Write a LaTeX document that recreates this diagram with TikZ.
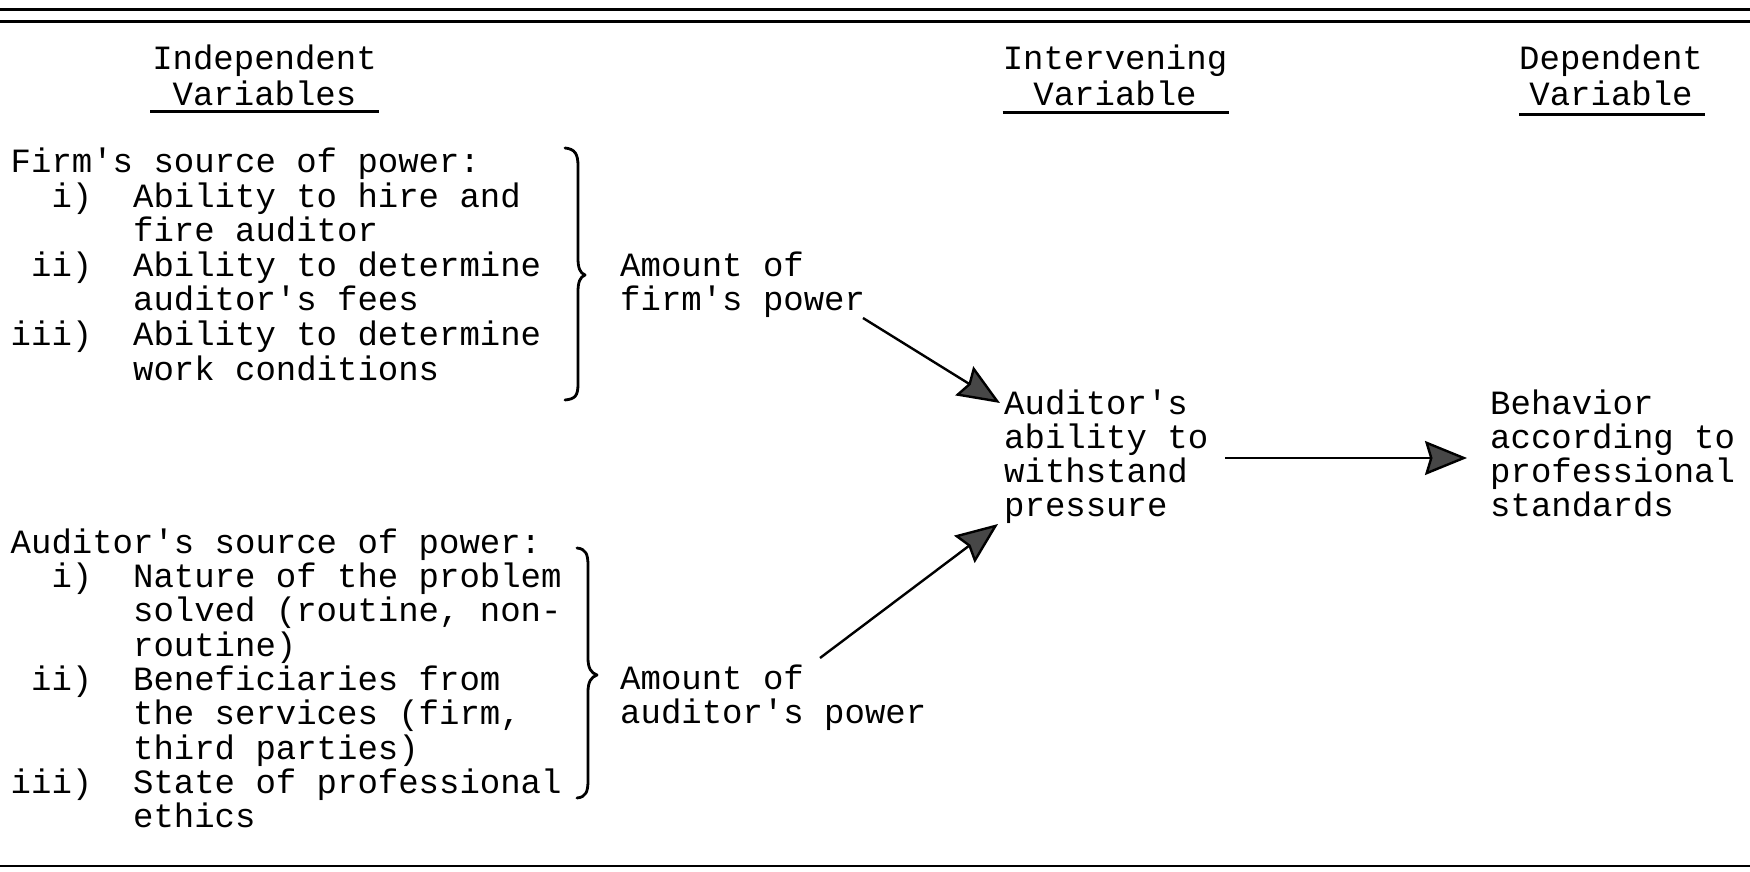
\documentclass[tikz,border=0pt]{standalone}
\usepackage{fontspec}
\newfontfamily\tw{Liberation Mono}
\usetikzlibrary{arrows.meta}
\newcommand{\tq}{\textquotesingle}
\begin{document}
\begin{tikzpicture}[x=1pt,y=-1pt,
  txt/.style={inner sep=0pt, anchor=base west, align=left,
    font={\tw\fontsize{34}{34.3}\selectfont\frenchspacing}},
  txtwide/.style={txt, font={\tw\fontsize{34}{34.6}\selectfont\frenchspacing}},
  hdr/.style={inner sep=0pt, anchor=base, align=center,
    font={\tw\fontsize{34}{36}\selectfont}},
  rulebar/.style={line width=2.6pt},
  uline/.style={line width=2.4pt},
  bracestyle/.style={line width=2.8pt, line cap=round, line join=round},
  conn/.style={line width=2.4pt, -{Stealth[length=42pt,width=34pt,inset=5pt,fill=black!72]}}]
\useasboundingbox (0,0) rectangle (1750,872);
% rules
\draw[rulebar] (0,9.5) -- (1750,9.5);
\draw[rulebar] (0,21.5) -- (1750,21.5);
\draw[rulebar] (0,866) -- (1750,866);
% headers (base = baseline of last line)
\node[hdr] (h1) at (264.5,106) {Independent\\Variables};
\node[hdr] (h2) at (1115,106) {Intervening\\Variable};
\node[hdr] (h3) at (1611,106) {Dependent\\Variable};
\draw[uline] ([shift={(-2,5)}]h1.south west) -- ([shift={(2,5)}]h1.south east);
\draw[uline] ([shift={(0,6)}]h2.south west) -- ([shift={(2,6)}]h2.south east);
\draw[uline] ([shift={(0,8)}]h3.south west) -- ([shift={(2,8)}]h3.south east);
% left blocks (base = baseline of last line)
\node[txtwide] (firm) at (10.5,380.1) {Firm\tq s source of power:\\
\hphantom{ii}i)\hphantom{ii}Ability to hire and\\
\hphantom{iiiiii}fire auditor\\
\hphantom{i}ii)\hphantom{ii}Ability to determine\\
\hphantom{iiiiii}auditor\tq s fees\\
iii)\hphantom{ii}Ability to determine\\
\hphantom{iiiiii}work conditions};
\node[txt] (audsrc) at (10.5,827.7) {Auditor\tq s source of power:\\
\hphantom{ii}i)\hphantom{ii}Nature of the problem\\
\hphantom{iiiiii}solved (routine, non-\\
\hphantom{iiiiii}routine)\\
\hphantom{i}ii)\hphantom{ii}Beneficiaries from\\
\hphantom{iiiiii}the services (firm,\\
\hphantom{iiiiii}third parties)\\
iii)\hphantom{ii}State of professional\\
\hphantom{iiiiii}ethics};
% braces
\draw[bracestyle] (565,148) .. controls (575,149) and (578,154) .. (578,166)
  -- (578,258) .. controls (578,268) and (580,273) .. (585,275)
  .. controls (580,277) and (578,282) .. (578,292)
  -- (578,384) .. controls (578,396) and (575,399) .. (565,400);
\draw[bracestyle] (577,548) .. controls (586,549) and (588,554) .. (588,566)
  -- (588,658) .. controls (588,668) and (591,673) .. (597,675)
  .. controls (591,677) and (588,682) .. (588,692)
  -- (588,780) .. controls (588,792) and (586,797) .. (577,798);
% middle texts
\node[txt] (amt1) at (620,310.8) {Amount of\\firm\tq s power};
\node[txt] (amt2) at (620,723.3) {Amount of\\auditor\tq s power};
\node[txt] (aud) at (1004,516.9) {Auditor\tq s\\ability to\\withstand\\pressure};
\node[txt] (beh) at (1490,516.9) {Behavior\\according to\\professional\\standards};
% connectors
\coordinate (s1) at (863,318);
\coordinate (t1) at (1000,403);
\coordinate (s2) at (820,658);
\coordinate (t2) at (998,524);
\draw[conn] (s1) -- (t1);
\draw[conn] (s2) -- (t2);
\draw[conn] ([xshift=221pt]aud.west |- 0,458) -- ([xshift=-23pt]beh.west |- 0,458);
\end{tikzpicture}
\end{document}
